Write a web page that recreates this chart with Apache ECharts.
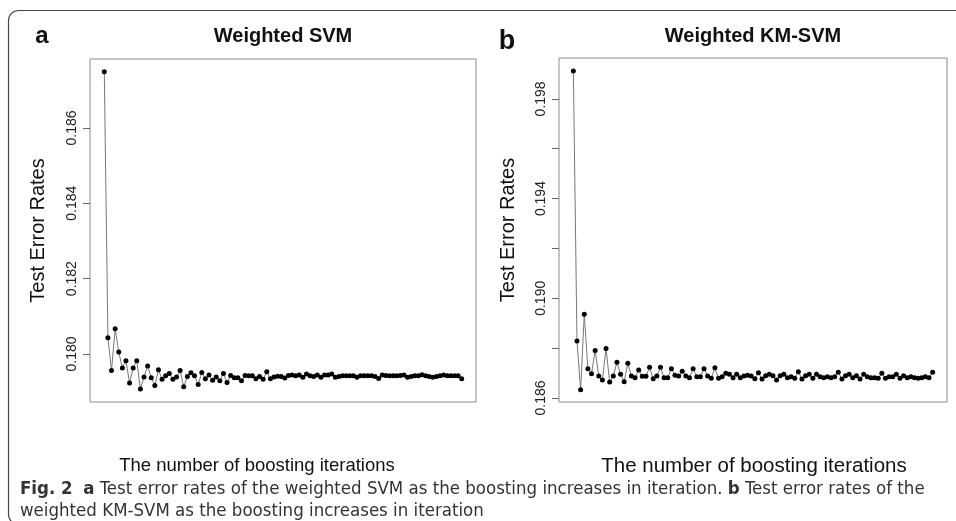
<!DOCTYPE html>
<html style="height: 100%">
<head>
    <meta charset="utf-8">
    <title>Weighted SVM boosting</title>
    <script src="https://cdn.jsdelivr.net/npm/echarts@6/dist/echarts.min.js"></script>
</head>
<body style="height: 100%; margin: 0; background: #fff">
<div id="main" style="width: 956px; height: 521px"></div>

<script type="text/javascript">
    // boosting iteration index 1..100
    var iterations = [];
    for (var i = 1; i <= 100; i++) iterations.push(i);

    // panel a: weighted SVM test error rates
    var svmErr = [
        0.18749, 0.18043, 0.17956, 0.18067, 0.18005, 0.17963, 0.17982, 0.17923, 0.17963, 0.17982,
        0.17907, 0.17939, 0.17968, 0.17937, 0.17916, 0.17958, 0.17933, 0.17942, 0.17948, 0.17933,
        0.17939, 0.17956, 0.17913, 0.17940, 0.17950, 0.17942, 0.17919, 0.17951, 0.17934, 0.17944,
        0.17930, 0.17939, 0.17929, 0.17948, 0.17924, 0.17943, 0.17937, 0.17937, 0.17929, 0.17943,
        0.17942, 0.17942, 0.17934, 0.17940, 0.17933, 0.17953, 0.17934, 0.17939, 0.17941, 0.17940,
        0.17936, 0.17943, 0.17944, 0.17942, 0.17944, 0.17938, 0.17947, 0.17942, 0.17940, 0.17944,
        0.17938, 0.17944, 0.17944, 0.17947, 0.17938, 0.17940, 0.17942, 0.17942, 0.17942, 0.17942,
        0.17938, 0.17942, 0.17942, 0.17942, 0.17942, 0.17940, 0.17935, 0.17944, 0.17943, 0.17942,
        0.17942, 0.17942, 0.17943, 0.17944, 0.17938, 0.17940, 0.17942, 0.17942, 0.17945, 0.17942,
        0.17940, 0.17938, 0.17940, 0.17942, 0.17944, 0.17942, 0.17942, 0.17942, 0.17942, 0.17934
    ];

    // panel b: weighted KM-SVM test error rates
    var kmErr = [
        0.19912, 0.18829, 0.18633, 0.18936, 0.18717, 0.18697, 0.18791, 0.18688, 0.18672, 0.18799,
        0.18664, 0.18688, 0.18743, 0.18695, 0.18665, 0.18739, 0.18688, 0.18681, 0.18712, 0.18687,
        0.18687, 0.18723, 0.18677, 0.18688, 0.18723, 0.18681, 0.18681, 0.18717, 0.18691, 0.18688,
        0.18707, 0.18688, 0.18681, 0.18717, 0.18685, 0.18685, 0.18717, 0.18688, 0.18679, 0.18721,
        0.18679, 0.18685, 0.18699, 0.18695, 0.18681, 0.18695, 0.18681, 0.18688, 0.18691, 0.18688,
        0.18677, 0.18701, 0.18676, 0.18689, 0.18695, 0.18689, 0.18672, 0.18689, 0.18695, 0.18681,
        0.18685, 0.18679, 0.18705, 0.18676, 0.18689, 0.18695, 0.18679, 0.18695, 0.18685, 0.18681,
        0.18685, 0.18681, 0.18685, 0.18703, 0.18676, 0.18689, 0.18695, 0.18681, 0.18689, 0.18676,
        0.18695, 0.18685, 0.18681, 0.18681, 0.18679, 0.18699, 0.18679, 0.18685, 0.18685, 0.18695,
        0.18679, 0.18689, 0.18681, 0.18685, 0.18681, 0.18679, 0.18681, 0.18685, 0.18681, 0.18703
    ];

    // tick positions / labels (R style: some ticks unlabeled)
    var svmTicks = [0.180, 0.182, 0.184, 0.186];
    var svmLabels = [0.180, 0.182, 0.184, 0.186];
    var kmTicks = [0.186, 0.188, 0.190, 0.192, 0.194, 0.196, 0.198];
    var kmLabels = [0.186, 0.190, 0.194, 0.198];

    var panelTitles = ['Weighted SVM', 'Weighted KM-SVM'];
    var yName = 'Test Error Rates';
    var xName = 'The number of boosting iterations';

    function pairs(vals) {
        var out = [];
        for (var i = 0; i < vals.length; i++) out.push([iterations[i], vals[i]]);
        return out;
    }

    var font = '"Liberation Sans", Arial, sans-serif';
    var capFont = '"DejaVu Sans Condensed", "Liberation Sans Narrow", sans-serif';
    var n = iterations.length;
    var xPad = (n - 1) * 0.04;

    function xAxis(idx) {
        return {
            gridIndex: idx, type: 'value',
            min: 1 - xPad, max: n + xPad,
            axisLine: {show: false, onZero: false}, axisTick: {show: false},
            axisLabel: {show: false}, splitLine: {show: false}
        };
    }

    function yAxis(idx, lo, hi, ticks, labels, gap) {
        return {
            gridIndex: idx, type: 'value', min: lo, max: hi,
            name: yName, nameLocation: 'middle', nameRotate: 90, nameGap: gap,
            nameTextStyle: {fontFamily: font, fontSize: 20, color: '#111'},
            axisLine: {show: false, onZero: false},
            splitLine: {show: false},
            axisTick: {show: true, length: 7, customValues: ticks,
                lineStyle: {color: '#666', width: 1}},
            axisLabel: {show: true, rotate: 90, margin: 11, customValues: labels,
                fontFamily: font, fontSize: 14, color: '#222',
                formatter: function (v) { return v.toFixed(3); }}
        };
    }

    function series(idx, vals) {
        return {
            type: 'line', xAxisIndex: idx, yAxisIndex: idx,
            data: pairs(vals), symbol: 'circle', symbolSize: 5,
            itemStyle: {color: '#000'},
            lineStyle: {color: '#777', width: 1},
            animation: false
        };
    }

    function txt(x, y, s, size, weight) {
        return {type: 'text', x: x, y: y, style: {
            text: s, fontFamily: font, fontSize: size, fontWeight: weight || 'normal',
            fill: '#111', textAlign: 'center', textVerticalAlign: 'middle'}};
    }

    var myChart = echarts.init(document.getElementById('main'), null, {renderer: 'canvas'});

    var option = {
        backgroundColor: '#fff',
        animation: false,
        grid: [
            {left: 90, top: 59, width: 386, height: 343, show: true, borderColor: '#8c8c8c', borderWidth: 1},
            {left: 559, top: 58, width: 388, height: 344, show: true, borderColor: '#8c8c8c', borderWidth: 1}
        ],
        xAxis: [xAxis(0), xAxis(1)],
        yAxis: [
            yAxis(0, 0.178725, 0.18783, svmTicks, svmLabels, 42),
            yAxis(1, 0.18584, 0.19964, kmTicks, kmLabels, 41)
        ],
        series: [series(0, svmErr), series(1, kmErr)],
        graphic: [
            {type: 'rect', shape: {x: 8.5, y: 10.5, width: 1000, height: 514, r: 10},
                style: {fill: 'none', stroke: '#444', lineWidth: 1.2}, silent: true},
            txt(42, 36, 'a', 24, 'bold'),
            txt(507, 42, 'b', 27, 'bold'),
            txt(283, 36, panelTitles[0], 20, 'bold'),
            txt(753, 36, panelTitles[1], 20, 'bold'),
            txt(257, 466, xName, 18.5),
            txt(754, 466, xName, 20.5),
            {type: 'text', x: 20, y: 489, style: {
                text: '{b|Fig. 2}  {b|a} Test error rates of the weighted SVM as the boosting increases in iteration. {b|b} Test error rates of the',
                fontFamily: capFont, fontSize: 18.5, fill: '#333', textVerticalAlign: 'middle',
                rich: {b: {fontFamily: capFont, fontSize: 18.5, fontWeight: 'bold', fill: '#333'}}}},
            {type: 'text', x: 20, y: 511, style: {
                text: 'weighted KM-SVM as the boosting increases in iteration',
                fontFamily: capFont, fontSize: 18.5, fill: '#333', textVerticalAlign: 'middle'}}
        ]
    };
    myChart.setOption(option, true);
</script>
</body>
</html>
